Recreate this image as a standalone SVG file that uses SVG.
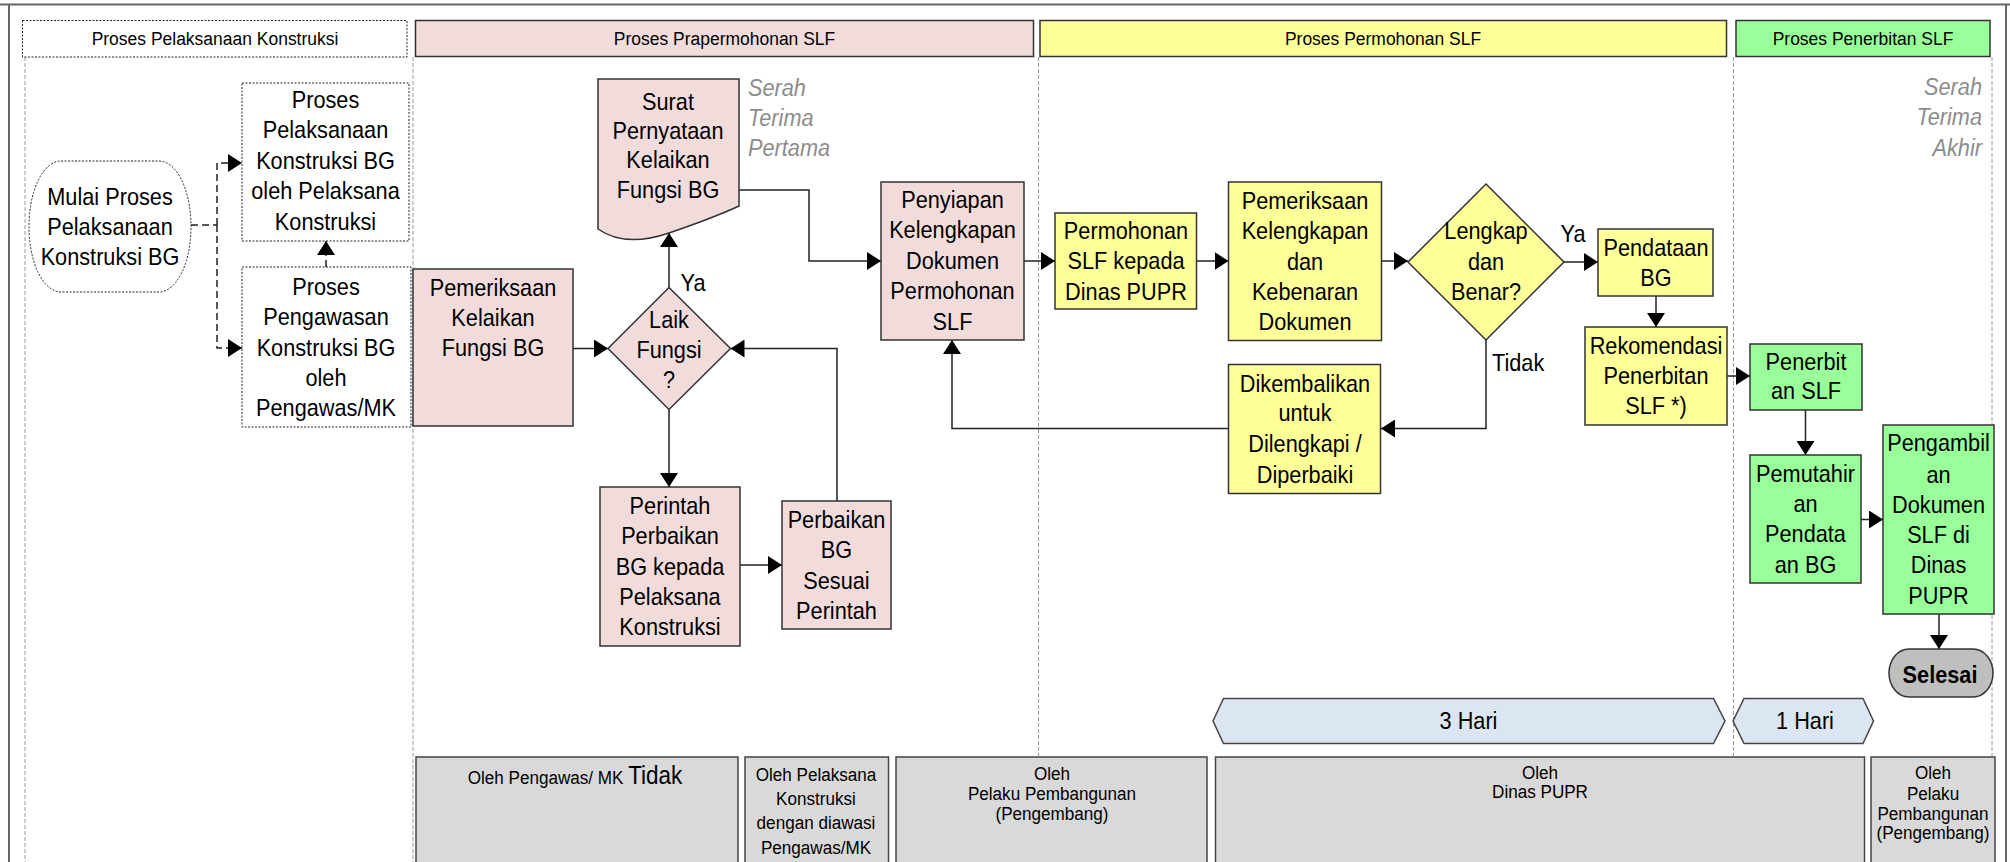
<svg xmlns="http://www.w3.org/2000/svg" width="2010" height="862" viewBox="0 0 2010 862">
<style>
  .frame{stroke:#666;stroke-width:2;fill:none}
  .lane{stroke:#9a9a9a;stroke-width:1;stroke-dasharray:4 2;fill:none}
  .hdot{fill:#fff;stroke:#222;stroke-width:1;stroke-dasharray:2 1.5}
  .pink{fill:#f2dcdb;stroke:#333;stroke-width:1.5}
  .yel{fill:#ffff99;stroke:#333;stroke-width:1.5}
  .grn{fill:#99ff99;stroke:#333;stroke-width:1.5}
  .dot{fill:#fff;stroke:#222;stroke-width:1;stroke-dasharray:2 1.5}
  .gray{fill:#d9d9d9;stroke:#444;stroke-width:1.5}
  .blue{fill:#dce6f2;stroke:#444;stroke-width:1.5}
  .fin{fill:#bfbfbf;stroke:#333;stroke-width:1.5}
  text{font-family:"Liberation Sans",Arial,sans-serif;fill:#000}
  .nt{font-size:24px;text-anchor:middle}
  .st{font-size:19px;text-anchor:middle}
  .note{font-size:24px;font-style:italic;fill:#8c8c8c}
  .lbl{font-size:24px}
  .conn path{fill:none;stroke:#222;stroke-width:1.5}
  .conn .dash{stroke-dasharray:7 4}
</style>
<defs>
  <marker id="ah" markerUnits="userSpaceOnUse" markerWidth="14" markerHeight="18" refX="14" refY="9" orient="auto">
    <path d="M0,0 L14,9 L0,18 z" fill="#000"/>
  </marker>
</defs>

<!-- outer frame and swimlane separators -->
<g id="frame">
  <line class="frame" x1="0" y1="4.5" x2="2010" y2="4.5"/>
  <line class="frame" x1="9" y1="4.5" x2="9" y2="862"/>
  <line class="frame" x1="2006" y1="4.5" x2="2006" y2="862"/>
  <line class="lane" x1="25" y1="57" x2="25" y2="862"/>
  <line class="lane" x1="413" y1="57" x2="413" y2="862"/>
  <line class="lane" x1="1038.5" y1="57" x2="1038.5" y2="756"/>
  <line class="lane" x1="1733.5" y1="57" x2="1733.5" y2="756"/>
  <line class="lane" x1="1992" y1="57" x2="1992" y2="756"/>
</g>

<!-- lane headers -->
<g id="header-konstruksi">
  <rect class="hdot" x="22.5" y="20.5" width="384.5" height="36.5"/>
  <text class="st" transform="translate(215 0) scale(.92 1)" x="0" y="45">Proses Pelaksanaan Konstruksi</text>
</g>
<g id="header-prapermohonan">
  <rect class="pink" x="415.5" y="20.5" width="618" height="36"/>
  <text class="st" transform="translate(724.5 0) scale(.92 1)" x="0" y="45">Proses Prapermohonan SLF</text>
</g>
<g id="header-permohonan">
  <rect class="yel" x="1040" y="20.5" width="686.5" height="36"/>
  <text class="st" transform="translate(1383 0) scale(.92 1)" x="0" y="45">Proses Permohonan SLF</text>
</g>
<g id="header-penerbitan">
  <rect class="grn" x="1736" y="20.5" width="254" height="36"/>
  <text class="st" transform="translate(1863 0) scale(.92 1)" x="0" y="45">Proses Penerbitan SLF</text>
</g>

<!-- connectors -->
<g id="connectors" class="conn">
  <path class="dash" d="M191,225 H217"/>
  <path class="dash" d="M217,225 V163 H242" marker-end="url(#ah)"/>
  <path class="dash" d="M217,225 V348 H242" marker-end="url(#ah)"/>
  <path class="dash" d="M326,267 V241" marker-end="url(#ah)"/>
  <path d="M573,348.5 H608" marker-end="url(#ah)"/>
  <path d="M669,287.5 V233" marker-end="url(#ah)"/>
  <path d="M739,190 H809 V261 H881" marker-end="url(#ah)"/>
  <path d="M669,409.5 V487" marker-end="url(#ah)"/>
  <path d="M740,565 H782" marker-end="url(#ah)"/>
  <path d="M837,501 V348.5 H730.5" marker-end="url(#ah)"/>
  <path d="M1024,261 H1055" marker-end="url(#ah)"/>
  <path d="M1196.5,261 H1228.5" marker-end="url(#ah)"/>
  <path d="M1381.5,261 H1408" marker-end="url(#ah)"/>
  <path d="M1564,262 H1598" marker-end="url(#ah)"/>
  <path d="M1486,340 V428.5 H1381" marker-end="url(#ah)"/>
  <path d="M1228.5,428.5 H952 V340" marker-end="url(#ah)"/>
  <path d="M1656,296 V327" marker-end="url(#ah)"/>
  <path d="M1727,376 H1750" marker-end="url(#ah)"/>
  <path d="M1805.5,410 V455" marker-end="url(#ah)"/>
  <path d="M1861,519.5 H1883" marker-end="url(#ah)"/>
  <path d="M1939,614 V649" marker-end="url(#ah)"/>
</g>

<!-- connector labels -->
<g id="labels">
  <text class="lbl" transform="translate(693 0) scale(.905 1)" x="0" y="291" text-anchor="middle">Ya</text>
  <text class="lbl" transform="translate(1573 0) scale(.905 1)" x="0" y="242" text-anchor="middle">Ya</text>
  <text class="lbl" transform="translate(1492 0) scale(.905 1)" x="0" y="371">Tidak</text>
</g>

<!-- construction lane -->
<g id="mulai">
  <rect class="dot" x="29" y="161" width="162" height="131" rx="32" ry="65"/>
  <text class="nt" transform="translate(110 0) scale(.905 1)"><tspan x="0" y="205">Mulai Proses</tspan><tspan x="0" y="235">Pelaksanaan</tspan><tspan x="0" y="265">Konstruksi BG</tspan></text>
</g>
<g id="pelaksanaan-konstruksi">
  <rect class="dot" x="242" y="83" width="167" height="158"/>
  <text class="nt" transform="translate(325.5 0) scale(.905 1)"><tspan x="0" y="108">Proses</tspan><tspan x="0" y="138.5">Pelaksanaan</tspan><tspan x="0" y="169">Konstruksi BG</tspan><tspan x="0" y="199.5">oleh Pelaksana</tspan><tspan x="0" y="230">Konstruksi</tspan></text>
</g>
<g id="pengawasan-konstruksi">
  <rect class="dot" x="242" y="267" width="169" height="160"/>
  <text class="nt" transform="translate(326 0) scale(.905 1)"><tspan x="0" y="295">Proses</tspan><tspan x="0" y="325.5">Pengawasan</tspan><tspan x="0" y="356">Konstruksi BG</tspan><tspan x="0" y="386.5">oleh</tspan><tspan x="0" y="416">Pengawas/MK</tspan></text>
</g>

<!-- pre-application lane -->
<g id="pemeriksaan-kelaikan">
  <rect class="pink" x="413" y="269" width="160" height="157"/>
  <text class="nt" transform="translate(493 0) scale(.905 1)"><tspan x="0" y="296">Pemeriksaan</tspan><tspan x="0" y="326">Kelaikan</tspan><tspan x="0" y="356">Fungsi BG</tspan></text>
</g>
<g id="surat-pernyataan">
  <path class="pink" d="M598,79 H739 V206 Q713,218 669,233 Q625,248 598,229 Z"/>
  <text class="nt" transform="translate(668 0) scale(.905 1)"><tspan x="0" y="110">Surat</tspan><tspan x="0" y="139">Pernyataan</tspan><tspan x="0" y="168">Kelaikan</tspan><tspan x="0" y="198">Fungsi BG</tspan></text>
  <text class="note" transform="translate(748 0) scale(.905 1)"><tspan x="0" y="96">Serah</tspan><tspan x="0" y="126">Terima</tspan><tspan x="0" y="156">Pertama</tspan></text>
</g>
<g id="laik-fungsi">
  <path class="pink" d="M669,287.5 L730.5,348.5 L669,409.5 L608,348.5 Z"/>
  <text class="nt" transform="translate(669 0) scale(.905 1)"><tspan x="0" y="328">Laik</tspan><tspan x="0" y="358">Fungsi</tspan><tspan x="0" y="388">?</tspan></text>
</g>
<g id="perintah-perbaikan">
  <rect class="pink" x="600" y="487" width="140" height="159"/>
  <text class="nt" transform="translate(670 0) scale(.905 1)"><tspan x="0" y="514">Perintah</tspan><tspan x="0" y="544.5">Perbaikan</tspan><tspan x="0" y="575">BG kepada</tspan><tspan x="0" y="605">Pelaksana</tspan><tspan x="0" y="635">Konstruksi</tspan></text>
</g>
<g id="perbaikan-bg">
  <rect class="pink" x="782" y="501" width="109" height="128"/>
  <text class="nt" transform="translate(836.5 0) scale(.905 1)"><tspan x="0" y="528">Perbaikan</tspan><tspan x="0" y="558.5">BG</tspan><tspan x="0" y="589">Sesuai</tspan><tspan x="0" y="619">Perintah</tspan></text>
</g>
<g id="penyiapan">
  <rect class="pink" x="881" y="182" width="143" height="158"/>
  <text class="nt" transform="translate(952.5 0) scale(.905 1)"><tspan x="0" y="208">Penyiapan</tspan><tspan x="0" y="238.5">Kelengkapan</tspan><tspan x="0" y="269">Dokumen</tspan><tspan x="0" y="299.5">Permohonan</tspan><tspan x="0" y="330">SLF</tspan></text>
</g>

<!-- application lane -->
<g id="permohonan">
  <rect class="yel" x="1055" y="213" width="141.5" height="96"/>
  <text class="nt" transform="translate(1126 0) scale(.905 1)"><tspan x="0" y="239">Permohonan</tspan><tspan x="0" y="269.5">SLF kepada</tspan><tspan x="0" y="300">Dinas PUPR</tspan></text>
</g>
<g id="pemeriksaan-kelengkapan">
  <rect class="yel" x="1228.5" y="182" width="153" height="158.5"/>
  <text class="nt" transform="translate(1305 0) scale(.905 1)"><tspan x="0" y="209">Pemeriksaan</tspan><tspan x="0" y="239.5">Kelengkapan</tspan><tspan x="0" y="270">dan</tspan><tspan x="0" y="300">Kebenaran</tspan><tspan x="0" y="330">Dokumen</tspan></text>
</g>
<g id="lengkap-benar">
  <path class="yel" d="M1486,184 L1564,262 L1486,340 L1408,262 Z"/>
  <text class="nt" transform="translate(1486 0) scale(.905 1)"><tspan x="0" y="239.5">Lengkap</tspan><tspan x="0" y="270">dan</tspan><tspan x="0" y="300">Benar?</tspan></text>
</g>
<g id="dikembalikan">
  <rect class="yel" x="1228.5" y="364.5" width="152" height="129"/>
  <text class="nt" transform="translate(1305 0) scale(.905 1)"><tspan x="0" y="392">Dikembalikan</tspan><tspan x="0" y="421.5">untuk</tspan><tspan x="0" y="452">Dilengkapi /</tspan><tspan x="0" y="483">Diperbaiki</tspan></text>
</g>
<g id="pendataan">
  <rect class="yel" x="1598" y="229" width="115" height="67"/>
  <text class="nt" transform="translate(1656 0) scale(.905 1)"><tspan x="0" y="256.5">Pendataan</tspan><tspan x="0" y="286.5">BG</tspan></text>
</g>
<g id="rekomendasi">
  <rect class="yel" x="1585" y="327" width="142" height="98"/>
  <text class="nt" transform="translate(1656 0) scale(.905 1)"><tspan x="0" y="354">Rekomendasi</tspan><tspan x="0" y="384">Penerbitan</tspan><tspan x="0" y="414.5">SLF *)</tspan></text>
</g>

<!-- issuance lane -->
<g id="penerbitan">
  <rect class="grn" x="1750" y="344" width="112" height="66"/>
  <text class="nt" transform="translate(1806 0) scale(.905 1)"><tspan x="0" y="370.5">Penerbit</tspan><tspan x="0" y="399.5">an SLF</tspan></text>
</g>
<g id="pemutahiran">
  <rect class="grn" x="1750" y="455" width="111" height="128"/>
  <text class="nt" transform="translate(1805.5 0) scale(.905 1)"><tspan x="0" y="482">Pemutahir</tspan><tspan x="0" y="512.5">an</tspan><tspan x="0" y="542">Pendata</tspan><tspan x="0" y="573">an BG</tspan></text>
</g>
<g id="pengambilan">
  <rect class="grn" x="1883" y="425" width="111" height="189"/>
  <text class="nt" transform="translate(1938.5 0) scale(.905 1)"><tspan x="0" y="451.5">Pengambil</tspan><tspan x="0" y="483">an</tspan><tspan x="0" y="513">Dokumen</tspan><tspan x="0" y="543">SLF di</tspan><tspan x="0" y="573">Dinas</tspan><tspan x="0" y="604">PUPR</tspan></text>
  <text class="note" text-anchor="end" transform="translate(1982 0) scale(.905 1)"><tspan x="0" y="95.5">Serah</tspan><tspan x="0" y="125.5">Terima</tspan><tspan x="0" y="156">Akhir</tspan></text>
</g>
<g id="selesai">
  <rect class="fin" x="1889" y="649" width="104" height="48" rx="20" ry="24"/>
  <text class="nt" transform="translate(1940 0) scale(.905 1)" font-weight="bold" x="0" y="683">Selesai</text>
</g>

<!-- durations -->
<g id="durasi-3">
  <path class="blue" d="M1213,721 L1223.5,698.5 H1713.5 L1725,721 L1713.5,743.5 H1223.5 Z"/>
  <text class="nt" transform="translate(1468.5 0) scale(.905 1)" x="0" y="729">3 Hari</text>
</g>
<g id="durasi-1">
  <path class="blue" d="M1733,721 L1744,698.5 H1863 L1873.5,721 L1863,743.5 H1744 Z"/>
  <text class="nt" transform="translate(1805 0) scale(.905 1)" x="0" y="729">1 Hari</text>
</g>

<!-- responsibility boxes -->
<g id="oleh-pengawas">
  <rect class="gray" x="416" y="757" width="322" height="120"/>
  <text class="st" transform="translate(575 0) scale(.9 1)" x="0" y="784">Oleh Pengawas/ MK <tspan font-size="25">Tidak</tspan></text>
</g>
<g id="oleh-pelaksana">
  <rect class="gray" x="745" y="757" width="143.5" height="120"/>
  <text class="st" transform="translate(816 0) scale(.9 1)"><tspan x="0" y="781">Oleh Pelaksana</tspan><tspan x="0" y="805">Konstruksi</tspan><tspan x="0" y="829.5">dengan  diawasi</tspan><tspan x="0" y="854">Pengawas/MK</tspan></text>
</g>
<g id="oleh-pelaku">
  <rect class="gray" x="896" y="757" width="311" height="120"/>
  <text class="st" transform="translate(1052 0) scale(.9 1)"><tspan x="0" y="780">Oleh</tspan><tspan x="0" y="800">Pelaku Pembangunan</tspan><tspan x="0" y="820">(Pengembang)</tspan></text>
</g>
<g id="oleh-dinas">
  <rect class="gray" x="1215.5" y="757" width="649" height="120"/>
  <text class="st" transform="translate(1540 0) scale(.9 1)"><tspan x="0" y="779">Oleh</tspan><tspan x="0" y="798">Dinas PUPR</tspan></text>
</g>
<g id="oleh-pelaku-akhir">
  <rect class="gray" x="1871" y="757" width="124" height="120"/>
  <text class="st" transform="translate(1933 0) scale(.9 1)"><tspan x="0" y="779">Oleh</tspan><tspan x="0" y="800">Pelaku</tspan><tspan x="0" y="820">Pembangunan</tspan><tspan x="0" y="839">(Pengembang)</tspan></text>
</g>
</svg>
